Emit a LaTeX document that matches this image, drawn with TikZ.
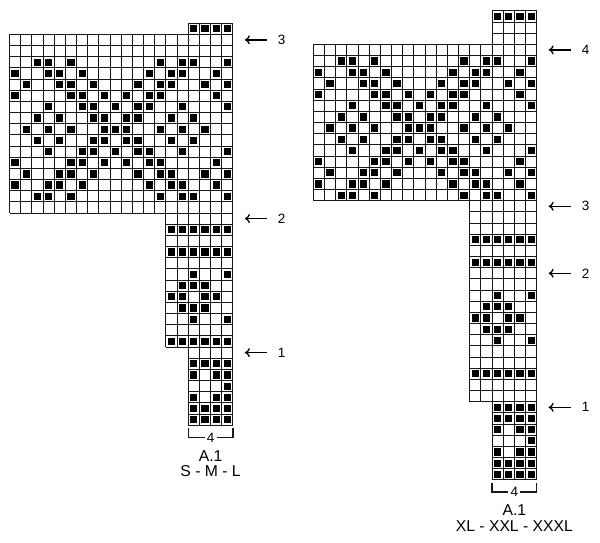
\documentclass[tikz,border=0pt]{standalone}
\usepackage{fontspec}
\setmainfont{Liberation Sans}
\usetikzlibrary{arrows.meta}

\newcommand\chartfont{\fontsize{15.7pt}{18pt}\selectfont}
\newcommand\rowfont{\fontsize{13.5pt}{15pt}\selectfont}
% star motif, black stitches of each row, top to bottom
\newcommand\starmotif{
{3,4,6,14,16,17,20},
{1,4,5,7,13,15,16,19},
{2,5,6,8,12,14,15,18,20},
{1,6,7,9,11,13,14,19},
{4,7,8,10,12,13,16,20},
{3,5,8,9,11,12,15,17},
{2,4,6,9,10,11,14,16,18},
{3,5,8,9,11,12,15,17},
{4,7,8,10,12,13,16,20},
{1,6,7,9,11,13,14,19},
{2,5,6,8,12,14,15,18,20},
{1,4,5,7,13,15,16,19},
{3,4,6,14,16,17,20}}

\tikzset{
gridline/.style={line width=0.9pt, black!90},
blk/.style={fill=black, minimum size=7.2pt, inner sep=0pt},
lab/.style={font=\chartfont, inner sep=0pt},
rowlab/.style={font=\rowfont, inner sep=0pt},
arw/.style={line width=1.3pt, -{To[length=5pt,width=9pt]}, shorten <=11pt},
brk/.style={line width=1.2pt, black!90},
}

\begin{document}
\begin{tikzpicture}
\useasboundingbox (0,0) rectangle (600pt,-542pt);

% S - M - L
\begin{scope}[shift={(9.5pt,-23.1pt)}, x=11.17pt, y=-11.17pt]
\foreach \xa/\xb/\ra/\rb in {16/20/0/1, 0/20/1/17, 14/20/17/29, 16/20/29/36} {
\foreach \row in {\ra,...,\rb} \draw[gridline] (\xa,\row) -- (\xb,\row);
\foreach \col in {\xa,...,\xb} \draw[gridline] (\col,\ra) -- (\col,\rb);
}
\foreach \y [count=\n] in \starmotif {
\pgfmathtruncatemacro\row{\n+2}
\foreach \col in \y {
\node[blk] (L-\row-\col) at (\col-0.5,\row+0.5) {};
}}
\foreach \row/\cols in {0/{17,...,20}, 18/{15,...,20}, 20/{15,...,20},
22/{17,20}, 23/{16,17,18}, 24/{15,16,18,19}, 25/{16,17,18}, 26/{17,20},
28/{15,...,20}, 30/{17,...,20}, 31/{17,19,20}, 32/{20}, 33/{17,19,20},
34/{17,...,20}, 35/{17,...,20}} {
\foreach \col in \cols {
\node[blk] (L-\row-\col) at (\col-0.5,\row+0.5) {};
}}
\foreach \row/\t in {1/3, 17/2, 29/1} {
\node[rowlab] (L-n\t) at (24.37,\row+0.5) {\t};
\coordinate (L-a\t) at (21.07,\row+0.5);
\draw[arw] (L-n\t.west) -- (L-a\t);
}
\node[rowlab, inner xsep=2pt] (L-w) at (18,37.13) {4};
\draw[brk] (16,36.27) |- (L-w.west);
\draw[brk] (20,36.27) |- (L-w.east);
\node[lab] (L-name) at (18,38.72) {A.1};
\node[lab] (L-size) at (18,40.12) {S - M - L};
\end{scope}

% XL - XXL - XXXL
\begin{scope}[shift={(313.3pt,-10.8pt)}, x=11.17pt, y=-11.17pt]
\foreach \xa/\xb/\ra/\rb in {16/20/0/3, 0/20/3/17, 14/20/17/35, 16/20/35/42} {
\foreach \row in {\ra,...,\rb} \draw[gridline] (\xa,\row) -- (\xb,\row);
\foreach \col in {\xa,...,\xb} \draw[gridline] (\col,\ra) -- (\col,\rb);
}
\foreach \y [count=\n] in \starmotif {
\pgfmathtruncatemacro\row{\n+3}
\foreach \col in \y {
\node[blk] (R-\row-\col) at (\col-0.5,\row+0.5) {};
}}
\foreach \row/\cols in {0/{17,...,20}, 20/{15,...,20}, 22/{15,...,20},
25/{17,20}, 26/{16,17,18}, 27/{15,16,18,19}, 28/{16,17,18}, 29/{17,20},
32/{15,...,20}, 35/{17,...,20}, 36/{17,...,20}, 37/{17,19,20}, 38/{20},
39/{17,19,20}, 40/{17,...,20}, 41/{17,...,20}} {
\foreach \col in \cols {
\node[blk] (R-\row-\col) at (\col-0.5,\row+0.5) {};
}}
\foreach \row/\t in {3/4, 17/3, 23/2, 35/1} {
\node[rowlab] (R-n\t) at (24.37,\row+0.5) {\t};
\coordinate (R-a\t) at (21.07,\row+0.5);
\draw[arw] (R-n\t.west) -- (R-a\t);
}
\node[rowlab, inner xsep=2pt] (R-w) at (18,43.07) {4};
\draw[brk] (16,42.27) |- (R-w.west);
\draw[brk] (20,42.27) |- (R-w.east);
\node[lab] (R-name) at (18,44.72) {A.1};
\node[lab] (R-size) at (18,46.12) {XL - XXL - XXXL};
\end{scope}
\end{tikzpicture}
\end{document}
